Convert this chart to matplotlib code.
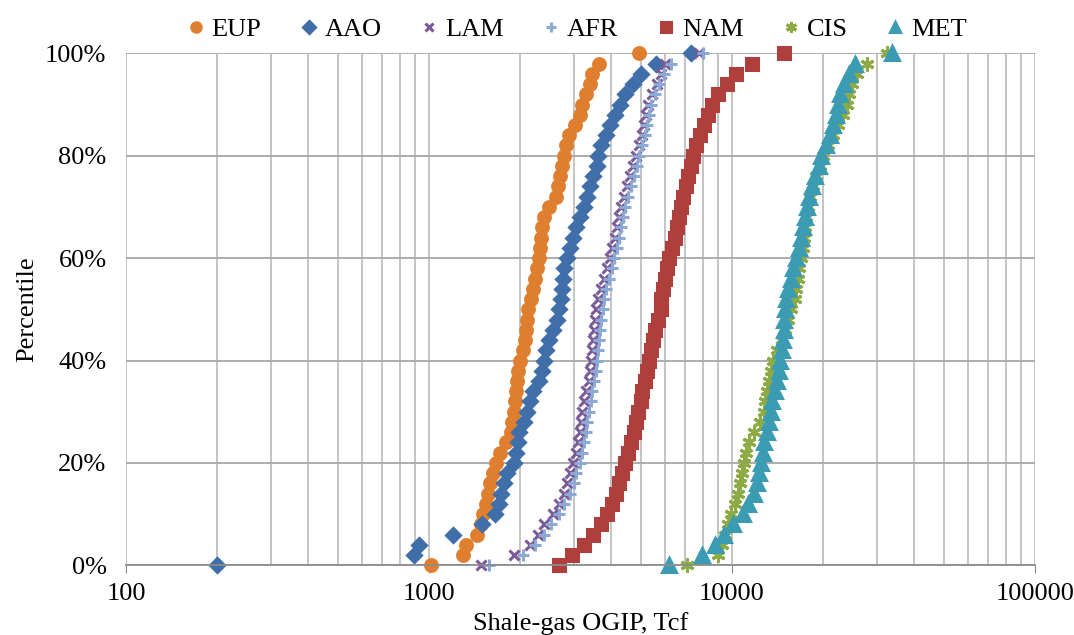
import numpy as np
import matplotlib
matplotlib.use('Agg')
import matplotlib.pyplot as plt
from matplotlib.ticker import LogLocator, FixedLocator, PercentFormatter, NullFormatter

plt.rcParams['font.family'] = ['Liberation Serif', 'DejaVu Serif']

# percentile of each ranked value (shared by all regions)
percentile = np.linspace(0, 1, 51)

# shale-gas OGIP (Tcf), sorted, one value per 2% step
eup = [1015, 1290, 1320, 1440, 1480, 1510, 1540, 1565, 1595, 1630,
       1670, 1710, 1800, 1860, 1880, 1905, 1920, 1935, 1950, 1970,
       1990, 2050, 2070, 2090, 2110, 2130, 2170, 2210, 2240, 2270,
       2300, 2320, 2345, 2367, 2400, 2480, 2630, 2660, 2700, 2740,
       2790, 2830, 2890, 3030, 3140, 3200, 3290, 3390, 3450, 3640, 4930]
aao = [200, 890, 930, 1200, 1500, 1650, 1700, 1726, 1770, 1815,
       1910, 1940, 1960, 1985, 2060, 2100, 2150, 2200, 2300, 2360,
       2400, 2440, 2490, 2560, 2650, 2690, 2720, 2740, 2770, 2790,
       2850, 2930, 2990, 3050, 3150, 3246, 3330, 3400, 3480, 3590,
       3620, 3700, 3850, 3970, 4120, 4260, 4450, 4700, 5000, 5600, 7300]
lam = [1480, 1910, 2150, 2290, 2400, 2560, 2680, 2780, 2860, 2930,
       2980, 3060, 3110, 3150, 3180, 3200, 3250, 3300, 3370, 3400,
       3420, 3450, 3480, 3500, 3530, 3570, 3620, 3700, 3780, 3880,
       3970, 4030, 4100, 4160, 4230, 4290, 4400, 4500, 4600, 4700,
       4820, 4950, 5030, 5120, 5210, 5290, 5450, 5640, 5850, 6000, 7800]
afr = [1580, 2040, 2230, 2400, 2520, 2680, 2800, 2930, 3000, 3060,
       3150, 3200, 3250, 3300, 3330, 3370, 3420, 3460, 3500, 3550,
       3590, 3600, 3630, 3660, 3700, 3740, 3790, 3850, 3930, 4020,
       4090, 4170, 4240, 4300, 4370, 4430, 4540, 4640, 4740, 4850,
       4950, 5060, 5150, 5230, 5320, 5400, 5560, 5750, 5980, 6300, 8000]
nam = [2680, 2970, 3250, 3480, 3700, 3880, 4020, 4130, 4250, 4340,
       4420, 4520, 4640, 4740, 4820, 4900, 4990, 5060, 5150, 5240,
       5330, 5420, 5500, 5590, 5700, 5810, 5850, 5920, 6000, 6090,
       6200, 6350, 6460, 6590, 6680, 6770, 6900, 7040, 7180, 7300,
       7420, 7600, 7850, 8070, 8330, 8620, 9000, 9600, 10300, 11650, 14900]
cis = [7100, 9000, 9300, 9500, 9700, 9950, 10200, 10450, 10600, 10800,
       10950, 11100, 11400, 11800, 12400, 12750, 12850, 13000, 13200, 13450,
       13650, 14100, 14600, 14950, 15300, 15700, 16100, 16300, 16500, 16700,
       16900, 17100, 17300, 17450, 17600, 17800, 18100, 18500, 19000, 19500,
       19900, 20700, 21500, 22400, 23300, 24000, 24300, 24800, 25800, 28000, 32400]
met = [6200, 7960, 8800, 9380, 10100, 10900, 11300, 11800, 12100, 12300,
       12500, 12650, 12800, 13000, 13200, 13400, 13600, 13850, 14100, 14300,
       14440, 14600, 14750, 14850, 14900, 14950, 15050, 15350, 15600, 15950,
       16300, 16600, 16900, 17150, 17400, 17700, 18000, 18400, 18800, 19300,
       19700, 20400, 21000, 21600, 22000, 22300, 22800, 23400, 24300, 25500, 33800]

regions = ['EUP', 'AAO', 'LAM', 'AFR', 'NAM', 'CIS', 'MET']
values = [eup, aao, lam, afr, nam, cis, met]
colors = ['#E07E30', '#3F6EA8', '#7A5B98', '#8CA9D6', '#AE3F3C', '#8DAA45', '#3A9BB2']
markers = ['o', 'D', 'x', '+', 's', (6, 2, 0), '^']
sizes = [8.5, 7.5, 7.5, 9, 8.5, 10, 9.5]

fig = plt.figure(figsize=(10.74, 6.35), dpi=100)
ax = fig.add_axes([0.1173, 0.1098, 0.8464, 0.8062])

for name, vals, col, mk, ms in zip(regions, values, colors, markers, sizes):
    ax.plot(vals, percentile, linestyle='none', marker=mk, markersize=ms,
            color=col, markeredgecolor=col, markeredgewidth=2.2, label=name,
            clip_on=False)

ax.set_xscale('log')
ax.set_xlim(100, 100000)
ax.set_ylim(0, 1)
ax.xaxis.set_major_locator(FixedLocator([100, 1000, 10000, 100000]))
ax.xaxis.set_minor_locator(LogLocator(base=10, subs=np.arange(2, 10)))
ax.xaxis.set_minor_formatter(NullFormatter())
ax.set_xticklabels(['100', '1000', '10000', '100000'])
ax.set_yticks(np.linspace(0, 1, 6))
ax.yaxis.set_major_formatter(PercentFormatter(1.0, decimals=0))

ax.grid(True, which='both', axis='x', color='#BFBFBF', linewidth=1.3)
ax.grid(True, which='major', axis='y', color='#A6A6A6', linewidth=1.3)
ax.set_axisbelow(True)
for s in ['left', 'right', 'top']:
    ax.spines[s].set_visible(False)
ax.spines['bottom'].set_color('#8C8C8C')
ax.spines['bottom'].set_linewidth(1.3)
ax.tick_params(axis='x', which='major', length=6, color='#8C8C8C', labelsize=19, pad=7)
ax.tick_params(axis='x', which='minor', length=0)
ax.tick_params(axis='y', length=0, labelsize=19, pad=14)

ax.set_xlabel('Shale-gas OGIP, Tcf', fontsize=19, labelpad=5)
ax.set_ylabel('Percentile', fontsize=19, labelpad=5)

fig.legend(loc='upper center', bbox_to_anchor=(0.537, 1.01), ncol=7, frameon=False,
           fontsize=19, handlelength=0.7, handletextpad=0.25, columnspacing=1.45,
           markerscale=0.8)

fig.savefig('out.png', dpi=100)
